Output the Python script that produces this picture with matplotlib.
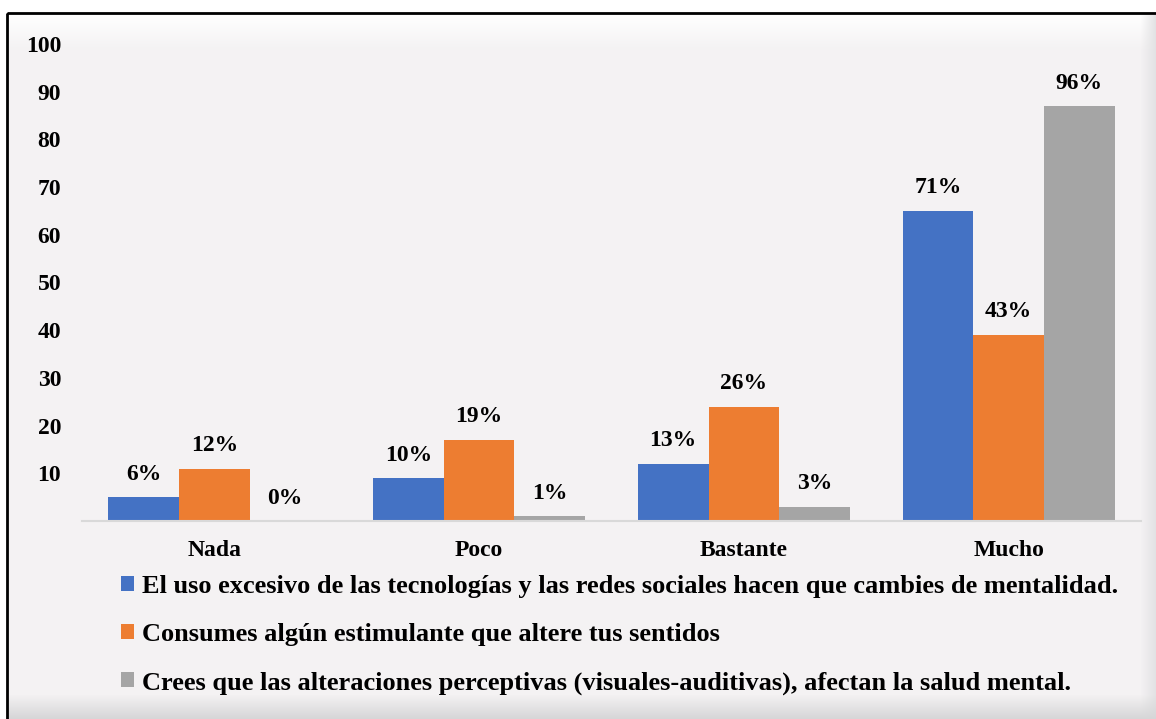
import numpy as np
import matplotlib.pyplot as plt
from matplotlib.patches import Rectangle

categories = ["Nada", "Poco", "Bastante", "Mucho"]
series_names = [
    "El uso excesivo de las tecnologías y las redes sociales hacen que cambies de mentalidad.",
    "Consumes algún estimulante que altere tus sentidos",
    "Crees que las alteraciones perceptivas (visuales-auditivas), afectan la salud mental.",
]
tecnologias = [5, 9, 12, 65]
estimulante = [11, 17, 24, 39]
alteraciones = [0, 1, 3, 87]
labels_tec = ["6%", "10%", "13%", "71%"]
labels_est = ["12%", "19%", "26%", "43%"]
labels_alt = ["0%", "1%", "3%", "96%"]
colors = ["#4472C4", "#ED7D31", "#A5A5A5"]
yticks = [10, 20, 30, 40, 50, 60, 70, 80, 90, 100]

plt.rcParams["font.family"] = ["Liberation Serif", "DejaVu Serif"]
plt.rcParams["font.weight"] = "bold"
fs = 17
legend_fs = 19

W, H = 1156, 719
fig = plt.figure(figsize=(W / 100, H / 100), dpi=100)
fig.patch.set_facecolor("white")

# background panel with soft bevel
base = np.array([0xF4, 0xF2, 0xF3]) / 255.0
img = np.ones((H, W, 3)) * base
top = np.linspace(1.0, 0.0, 36)[:, None, None]
img[14:50] = base + (1 - base) * top
right = np.linspace(0.0, 1.0, 16)[None, :, None]
img[:, 1140:1156] = img[:, 1140:1156] * (1 - right) + np.array([0.89, 0.89, 0.895]) * right
bottom = np.linspace(0.0, 1.0, 25)[:, None, None]
img[694:719] = img[694:719] * (1 - bottom) + np.array([0.84, 0.84, 0.845]) * bottom
img[:13] = 1.0
img[:, :7] = 1.0
bg = fig.add_axes([0, 0, 1, 1], zorder=-1)
bg.imshow(img, aspect="auto", extent=(0, W, H, 0))
bg.set_xlim(0, W)
bg.set_ylim(H, 0)
bg.axis("off")
bg.add_patch(Rectangle((7, 13), W + 10, H + 10, fill=False, edgecolor="black", linewidth=2))

ax = fig.add_axes([82 / W, 1 - 521 / H, (1141 - 82) / W, (521 - 44) / H])
ax.set_facecolor("none")

x = np.arange(len(categories))
width = 0.267
groups = [(tecnologias, labels_tec), (estimulante, labels_est), (alteraciones, labels_alt)]
for i, (vals, labs) in enumerate(groups):
    pos = x + (i - 1) * width
    bars = ax.bar(pos, vals, width, color=colors[i], label=series_names[i])
    for b, lab in zip(bars, labs):
        ax.annotate(lab, (b.get_x() + b.get_width() / 2, b.get_height()),
                    xytext=(0, 9), textcoords="offset points",
                    ha="center", va="bottom", fontsize=fs, fontweight="bold")

ax.set_xlim(-0.5, 3.5)
ax.set_ylim(0, 100)
ax.set_yticks(yticks)
ax.set_yticklabels([str(t) for t in yticks], fontsize=fs, fontweight="bold")
ax.set_xticks(x)
ax.set_xticklabels(categories, fontsize=fs, fontweight="bold")
ax.tick_params(axis="y", length=0, pad=15)
ax.tick_params(axis="x", length=0, pad=14)
for s in ["top", "right", "left"]:
    ax.spines[s].set_visible(False)
ax.spines["bottom"].set_color("#D9D9D9")
ax.spines["bottom"].set_linewidth(1.5)

fig.legend(loc="upper left", bbox_to_anchor=(108 / W, 1 - 562 / H), frameon=False,
           prop={"size": legend_fs, "weight": "bold"}, handlelength=0.5, handleheight=0.5,
           handletextpad=0.3, labelspacing=0.95, borderpad=0)

fig.savefig("out.png", dpi=100)
